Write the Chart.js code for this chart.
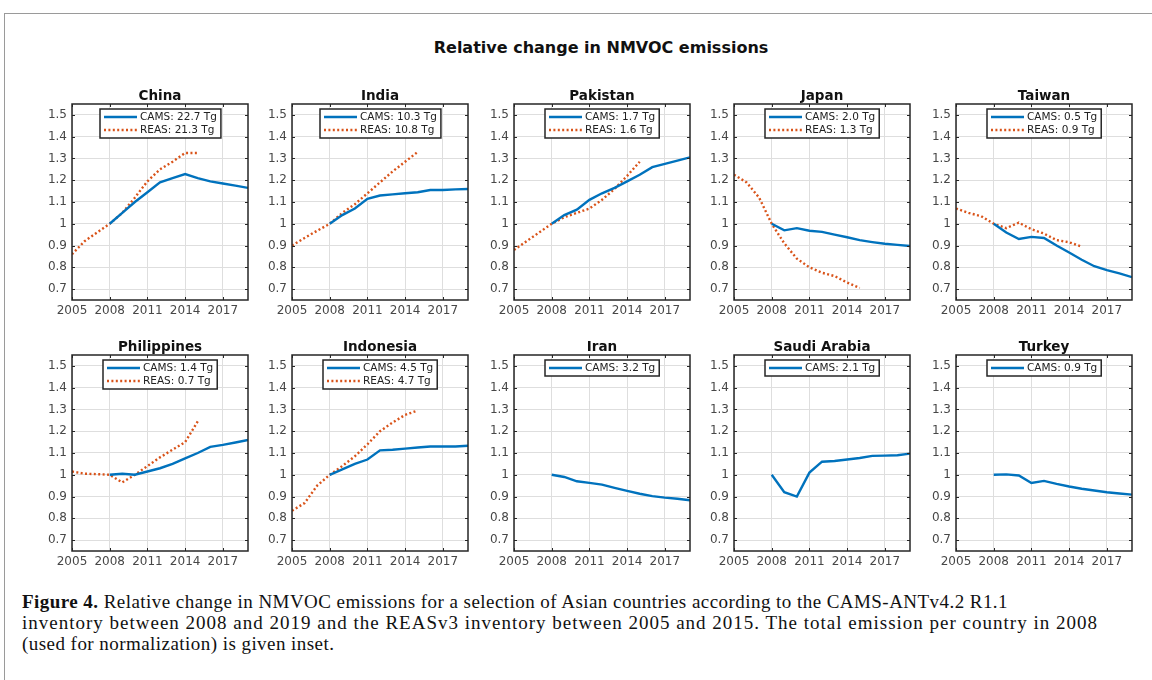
<!DOCTYPE html>
<html>
<head>
<meta charset="UTF-8">
<title>Relative change in NMVOC emissions</title>
<script src="https://cdn.jsdelivr.net/npm/chart.js"></script>
<style>
  body { margin: 0; background: #fff; width: 1152px; height: 680px; overflow: hidden; position: relative; font-family: "DejaVu Sans", sans-serif; }
  .frame { position: absolute; left: 4px; top: 13px; width: 1200px; height: 720px; border: 1px solid #9a9a9a; }
  .maintitle { position: absolute; left: 401px; top: 38px; width: 400px; text-align: center; font-size: 16px; font-weight: bold; color: #111; line-height: 20px; }
  .panel { position: absolute; }
  .caption { position: absolute; left: 22px; top: 591px; font-family: "Liberation Serif", serif; font-size: 19px; letter-spacing: 0.45px; line-height: 21px; color: #111; white-space: nowrap; }
  .caption .l2 { letter-spacing: 1.0px; }
</style>
</head>
<body>
<div class="frame"></div>
<div class="maintitle">Relative change in NMVOC emissions</div>
<div id="panels"></div>
<div class="caption">
  <b>Figure 4.</b> Relative change in NMVOC emissions for a selection of Asian countries according to the CAMS-ANTv4.2 R1.1<br>
  <span class="l2">inventory between 2008 and 2019 and the REASv3 inventory between 2005 and 2015. The total emission per country in 2008</span><br>
  (used for normalization) is given inset.
</div>

<script>
    // Años de cada inventario
    const camsYears = [2008, 2009, 2010, 2011, 2012, 2013, 2014, 2015, 2016, 2017, 2018, 2019];
    const reasYears = [2005, 2006, 2007, 2008, 2009, 2010, 2011, 2012, 2013, 2014, 2015];
    const xTicks = [2005, 2008, 2011, 2014, 2017];
    const yTicks = [0.7, 0.8, 0.9, 1, 1.1, 1.2, 1.3, 1.4, 1.5];

    const countries = ['China', 'India', 'Pakistan', 'Japan', 'Taiwan', 'Philippines', 'Indonesia', 'Iran', 'Saudi Arabia', 'Turkey'];
    const camsTotals = ['22.7', '10.3', '1.7', '2.0', '0.5', '1.4', '4.5', '3.2', '2.1', '0.9'];
    const reasTotals = ['21.3', '10.8', '1.6', '1.3', '0.9', '0.7', '4.7', null, null, null];

    const camsChina = [1.0, 1.05, 1.1, 1.145, 1.19, 1.21, 1.228, 1.21, 1.195, 1.185, 1.175, 1.165];
    const reasChina = [0.86, 0.92, 0.96, 1.0, 1.05, 1.12, 1.195, 1.25, 1.285, 1.325, 1.325];
    const camsIndia = [1.0, 1.04, 1.07, 1.115, 1.13, 1.135, 1.14, 1.145, 1.155, 1.155, 1.158, 1.16];
    const reasIndia = [0.9, 0.935, 0.968, 1.0, 1.05, 1.09, 1.14, 1.19, 1.24, 1.285, 1.33];
    const camsPakistan = [1.0, 1.04, 1.065, 1.11, 1.14, 1.165, 1.195, 1.225, 1.26, 1.275, 1.29, 1.305];
    const reasPakistan = [0.88, 0.92, 0.96, 1.0, 1.03, 1.05, 1.07, 1.11, 1.16, 1.22, 1.285];
    const camsJapan = [1.0, 0.97, 0.98, 0.968, 0.963, 0.95, 0.938, 0.925, 0.916, 0.908, 0.903, 0.898];
    const reasJapan = [1.225, 1.19, 1.12, 1.0, 0.91, 0.84, 0.8, 0.775, 0.76, 0.73, 0.705];
    const camsTaiwan = [1.0, 0.96, 0.93, 0.94, 0.935, 0.9, 0.868, 0.835, 0.805, 0.787, 0.772, 0.755];
    const reasTaiwan = [1.07, 1.05, 1.035, 1.0, 0.98, 1.005, 0.975, 0.955, 0.925, 0.915, 0.895];
    const camsPhilippines = [1.0, 1.005, 1.0, 1.015, 1.03, 1.05, 1.075, 1.1, 1.128, 1.137, 1.148, 1.16];
    const reasPhilippines = [1.015, 1.005, 1.003, 1.0, 0.965, 1.0, 1.04, 1.08, 1.115, 1.15, 1.245];
    const camsIndonesia = [1.0, 1.025, 1.05, 1.07, 1.112, 1.115, 1.12, 1.125, 1.13, 1.13, 1.13, 1.133];
    const reasIndonesia = [0.835, 0.87, 0.95, 1.0, 1.04, 1.085, 1.14, 1.2, 1.24, 1.275, 1.295];
    const camsIran = [1.0, 0.99, 0.97, 0.963, 0.955, 0.94, 0.926, 0.913, 0.902, 0.895, 0.89, 0.883];
    const camsSaudi = [1.0, 0.92, 0.9, 1.01, 1.06, 1.063, 1.07, 1.077, 1.087, 1.088, 1.09, 1.097];
    const camsTurkey = [1.0, 1.002, 0.997, 0.962, 0.972, 0.958, 0.946, 0.936, 0.928, 0.92, 0.914, 0.909];

    const camsSeries = [camsChina, camsIndia, camsPakistan, camsJapan, camsTaiwan, camsPhilippines, camsIndonesia, camsIran, camsSaudi, camsTurkey];
    const reasSeries = [reasChina, reasIndia, reasPakistan, reasJapan, reasTaiwan, reasPhilippines, reasIndonesia, null, null, null];

    const FONT = '"DejaVu Sans", sans-serif';
    const gridColor = '#dedede';
    const tickColor = '#474747';
    const axisColor = '#262626';

    // Caja estilo MATLAB, título y leyenda interior
    const matlabBox = {
        id: 'matlabBox',
        afterDatasetsDraw(chart) {
            const { ctx, chartArea: a, scales: { x, y } } = chart;
            ctx.save();
            ctx.strokeStyle = axisColor;
            ctx.lineWidth = 1;
            ctx.beginPath();
            xTicks.forEach(v => {
                const px = Math.round(x.getPixelForValue(v)) + 0.5;
                ctx.moveTo(px, a.bottom); ctx.lineTo(px, a.bottom - 3);
                ctx.moveTo(px, a.top); ctx.lineTo(px, a.top + 3);
            });
            yTicks.forEach(v => {
                const py = Math.round(y.getPixelForValue(v)) + 0.5;
                ctx.moveTo(a.left, py); ctx.lineTo(a.left + 3, py);
                ctx.moveTo(a.right, py); ctx.lineTo(a.right - 3, py);
            });
            ctx.stroke();
            ctx.lineWidth = 1.5;
            ctx.strokeRect(a.left, a.top, a.right - a.left, a.bottom - a.top);
            ctx.restore();
        },
        afterDraw(chart, args, opts) {
            const { ctx, chartArea: a } = chart;
            const cx = (a.left + a.right) / 2;
            ctx.save();
            // título del panel
            ctx.fillStyle = '#111';
            ctx.font = 'bold 13.5px ' + FONT;
            ctx.textAlign = 'center';
            ctx.textBaseline = 'alphabetic';
            ctx.fillText(opts.title, cx, a.top - 4);

            // leyenda
            const sets = chart.data.datasets;
            ctx.font = '10.5px ' + FONT;
            const tw = Math.max(...sets.map(d => ctx.measureText(d.label).width));
            const w = 4 + 33 + 3 + tw + 4;
            const h = 13 * sets.length + 3;
            const bx = Math.round(cx - w / 2), by = Math.round(a.top + 5);
            ctx.fillStyle = '#fff';
            ctx.fillRect(bx, by, w, h);
            ctx.strokeStyle = axisColor;
            ctx.lineWidth = 1.5;
            ctx.strokeRect(bx, by, w, h);
            sets.forEach((d, i) => {
                const ry = by + 8 + i * 13;
                ctx.beginPath();
                ctx.strokeStyle = d.borderColor;
                ctx.lineWidth = d.borderWidth;
                ctx.setLineDash(d.borderDash || []);
                ctx.moveTo(bx + 4, ry); ctx.lineTo(bx + 37, ry);
                ctx.stroke();
                ctx.setLineDash([]);
                ctx.fillStyle = '#222';
                ctx.textAlign = 'left';
                ctx.textBaseline = 'middle';
                ctx.fillText(d.label, bx + 40, ry);
            });
            ctx.restore();
        }
    };

    function toPoints(xs, ys) {
        return xs.map((x, i) => ({ x: x, y: ys[i] }));
    }

    // Posición de los paneles (borde izquierdo del área de trazado, fila)
    const colLefts = [72, 292, 514, 734, 956];
    const rowTops = [104, 355];
    const plotW = 176, plotH = 196, padL = 44, padT = 28, padB = 20, padR = 4;

    function createPanel(i) {
        const canvas = document.createElement('canvas');
        canvas.className = 'panel';
        canvas.width = padL + plotW + padR;
        canvas.height = padT + plotH + padB;
        canvas.style.left = (colLefts[i % 5] - padL) + 'px';
        canvas.style.top = (rowTops[Math.floor(i / 5)] - padT) + 'px';
        document.getElementById('panels').appendChild(canvas);

        const datasets = [{
            label: 'CAMS: ' + camsTotals[i] + ' Tg',
            data: toPoints(camsYears, camsSeries[i]),
            borderColor: '#0072BD',
            borderWidth: 2.4,
            pointRadius: 0,
            tension: 0
        }];
        if (reasSeries[i]) {
            datasets.push({
                label: 'REAS: ' + reasTotals[i] + ' Tg',
                data: toPoints(reasYears, reasSeries[i]),
                borderColor: '#D95319',
                borderWidth: 2.4,
                borderDash: [2, 2.4],
                pointRadius: 0,
                tension: 0
            });
        }

        new Chart(canvas.getContext('2d'), {
            type: 'line',
            data: { datasets: datasets },
            options: {
                responsive: false,
                animation: false,
                layout: { padding: { top: padT, right: padR, left: 0, bottom: 0 } },
                plugins: {
                    legend: { display: false },
                    tooltip: { enabled: false },
                    matlabBox: { title: countries[i] }
                },
                scales: {
                    x: {
                        type: 'linear', min: 2005, max: 2019,
                        afterBuildTicks: s => { s.ticks = xTicks.map(v => ({ value: v })); },
                        afterFit: s => { s.height = padB; },
                        grid: { color: gridColor, drawTicks: false },
                        border: { display: false },
                        ticks: { color: tickColor, font: { family: FONT, size: 12 }, padding: 4, maxRotation: 0, callback: v => String(v) }
                    },
                    y: {
                        min: 0.65, max: 1.55,
                        afterBuildTicks: s => { s.ticks = yTicks.map(v => ({ value: v })); },
                        afterFit: s => { s.width = padL; },
                        grid: { color: gridColor, drawTicks: false },
                        border: { display: false },
                        ticks: { color: tickColor, font: { family: FONT, size: 12 }, padding: 5, callback: v => String(v) }
                    }
                }
            },
            plugins: [matlabBox]
        });
    }

    countries.forEach((c, i) => createPanel(i));
</script>
</body>
</html>
